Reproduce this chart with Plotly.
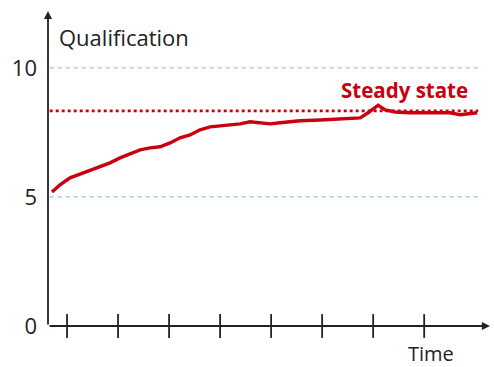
import plotly.graph_objects as go

# ---- data ----
px_time = [52, 60, 70, 80, 90, 100, 110, 120, 130, 140, 150, 160, 170, 180, 190, 200,
           210, 220, 230, 240, 250, 260, 270, 280, 290, 300, 320, 340, 360, 368, 375,
           378, 385, 395, 410, 430, 450, 460, 470, 477]
qualification = [5.19, 5.47, 5.74, 5.89, 6.05, 6.2, 6.32, 6.51, 6.67, 6.82, 6.9, 6.94,
                 7.09, 7.29, 7.4, 7.6, 7.71, 7.75, 7.79, 7.83, 7.91, 7.87, 7.83, 7.87,
                 7.91, 7.95, 7.98, 8.02, 8.06, 8.26, 8.49, 8.55, 8.37, 8.29, 8.26, 8.26,
                 8.26, 8.18, 8.22, 8.26]
time = [(p - 67) / 51 + 1 for p in px_time]
x_ticks = [1, 2, 3, 4, 5, 6, 7, 8]
y_ticks = [0, 5, 10]
y_ticklabels = ["0", "5", "10"]
grid_levels = [5, 10]
steady_state = 8.33

X_MIN, X_MAX = 0.627, 9.29
Y_MAX = 12.2
RED = "#c8000f"
FONT = "Open Sans, Liberation Sans, sans-serif"

fig = go.Figure()

for g in grid_levels:
    fig.add_shape(type="line", xref="x", yref="y", x0=0.66, x1=9.1, y0=g, y1=g,
                  line=dict(color="#93bde9", width=1.2, dash="4px,4px"), layer="below")

fig.add_shape(type="line", xref="x", yref="y", x0=0.66, x1=9.06, y0=steady_state, y1=steady_state,
              line=dict(color=RED, width=2.6, dash="dot"))

fig.add_trace(go.Scatter(x=time, y=qualification, mode="lines",
                         line=dict(color=RED, width=3.4), hoverinfo="skip"))

# crossing tick marks on the x axis
fig.add_trace(go.Scatter(x=x_ticks, y=[0] * len(x_ticks), mode="markers",
                         marker=dict(symbol="line-ns", size=17,
                                     line=dict(color="#222", width=1.8)),
                         cliponaxis=False, hoverinfo="skip"))

# axis arrows
fig.add_annotation(x=X_MAX, y=0, ax=X_MIN, ay=0, xref="x", yref="y", axref="x", ayref="y",
                   showarrow=True, arrowhead=2, arrowsize=0.9, arrowwidth=1.8,
                   arrowcolor="#222", text="")
fig.add_annotation(x=X_MIN, y=Y_MAX, ax=X_MIN, ay=0, xref="x", yref="y", axref="x", ayref="y",
                   showarrow=True, arrowhead=2, arrowsize=0.9, arrowwidth=1.8,
                   arrowcolor="#222", text="")

fig.add_annotation(text="Qualification", x=X_MIN, y=11.2, xref="x", yref="y",
                   xanchor="left", yanchor="middle", xshift=9, showarrow=False,
                   font=dict(size=22, color="#222", family=FONT))
fig.add_annotation(text="<b>Steady state</b>", x=(404 - 67) / 51 + 1, y=9.15, xref="x", yref="y",
                   xanchor="center", yanchor="middle", showarrow=False,
                   font=dict(size=20.5, color=RED, family=FONT))
fig.add_annotation(text="Time", x=(431 - 67) / 51 + 1, y=0, xref="x", yref="paper",
                   xanchor="center", yanchor="middle", yshift=-27, showarrow=False,
                   font=dict(size=20, color="#222", family=FONT))

fig.update_layout(
    width=494, height=367,
    margin=dict(l=48, r=4, t=11, b=41),
    paper_bgcolor="white", plot_bgcolor="white",
    showlegend=False,
    xaxis=dict(range=[X_MIN, X_MAX], showgrid=False, zeroline=False, showline=False,
               showticklabels=False, ticks=""),
    yaxis=dict(range=[0, Y_MAX], showgrid=False, zeroline=False, showline=False,
               tickmode="array", tickvals=y_ticks, ticktext=y_ticklabels, ticks="",
               ticklabelstandoff=10,
               tickfont=dict(size=22, color="#222", family=FONT)),
)

fig.write_html("out.html", config={"displayModeBar": False},
               post_script="document.body.style.margin='0';")
